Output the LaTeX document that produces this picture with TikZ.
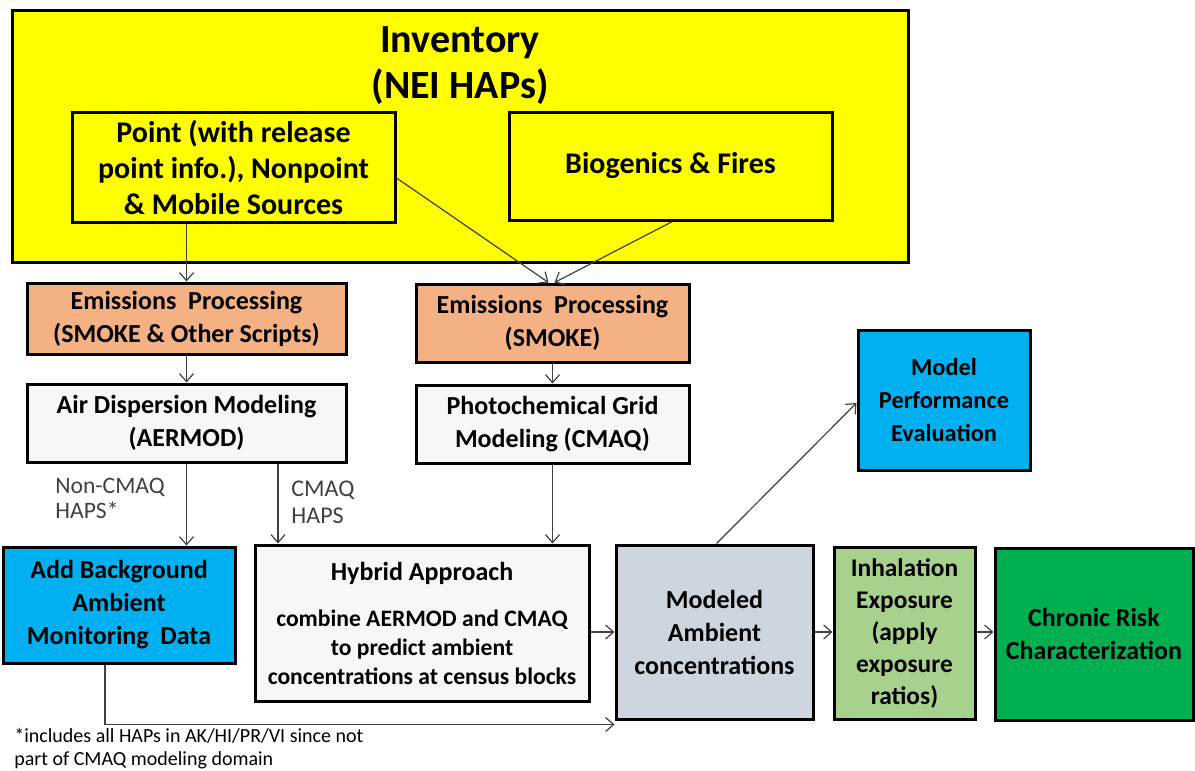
\documentclass[tikz,border=0pt]{standalone}
\usepackage{fontspec}
\setmainfont{Carlito}
\usetikzlibrary{arrows.meta}

\definecolor{invyellow}{HTML}{FFFF00}
\definecolor{emisorange}{HTML}{F4B183}
\definecolor{skyblue}{HTML}{00B0F0}
\definecolor{palegray}{HTML}{F7F7F7}
\definecolor{bluegray}{HTML}{CDD5DF}
\definecolor{lightgreen}{HTML}{A9D18E}
\definecolor{riskgreen}{HTML}{00B050}
\definecolor{linegray}{HTML}{404040}

\begin{document}
\begin{tikzpicture}[x=0.5pt,y=-0.5pt,
	box/.style={draw=black, line width=1.5pt, inner sep=0pt, align=center,
		font=\bfseries\fontsize{13}{16.5}\selectfont},
	arr/.style={draw=linegray, line width=0.6pt, -{Straight Barb[length=4pt,width=7pt]}},
	note/.style={anchor=north west, align=left, inner sep=0pt, text=linegray}]
		\useasboundingbox (0,0) rectangle (1195,771);

		% Inventory
		\node[box, fill=invyellow, minimum width=448pt, minimum height=126pt] (inv) at (460,136) {};
		\node[inner sep=0pt, align=center, font=\bfseries\fontsize{20}{23}\selectfont] (invtitle) at (460,66) {Inventory\\(NEI HAPs)};
		\node[box, fill=invyellow, minimum width=161.5pt, minimum height=55pt, font=\bfseries\fontsize{15}{18}\selectfont] (pt) at (233.5,167) {Point (with release\\point info.), Nonpoint\\\& Mobile Sources};
		\node[box, fill=invyellow, minimum width=161.5pt, minimum height=54pt, font=\bfseries\fontsize{15}{18}\selectfont] (bio) at (670.5,166) {Biogenics \& Fires};

		% Processing and modeling
		\node[box, fill=emisorange, minimum width=159.5pt, minimum height=35.5pt] (epl) at (186.5,318.5) {Emissions\ \ Processing\\(SMOKE \& Other Scripts)};
		\node[box, fill=emisorange, minimum width=136.5pt, minimum height=39pt] (epr) at (552.5,323) {Emissions\ \ Processing\\(SMOKE)};
		\node[box, fill=palegray, minimum width=159.5pt, minimum height=39pt] (aer) at (186.5,423) {Air\ Dispersion\ Modeling\\(AERMOD)};
		\node[box, fill=palegray, minimum width=136.5pt, minimum height=39pt] (cmaq) at (552.5,424) {Photochemical\ Grid\\Modeling\ (CMAQ)};
		\node[box, fill=skyblue, minimum width=86pt, minimum height=70pt, font=\bfseries\fontsize{12.2}{16.5}\selectfont] (mpe) at (944,400) {Model\\Performance\\Evaluation};

		% Bottom row
		\node[box, fill=skyblue, minimum width=116pt, minimum height=58pt] (bg) at (119,605) {Add Background\\Ambient\\Monitoring\ \ Data};
		\node[box, fill=palegray, minimum width=167pt, minimum height=78pt, font=\bfseries\fontsize{11.8}{14.5}\selectfont] (hyb) at (422,623) {{\fontsize{13}{14.5}\selectfont Hybrid\ Approach}\\[8.5pt]combine AERMOD and CMAQ\\to predict ambient\\concentrations at census blocks};
		\node[box, fill=bluegray, minimum width=98.5pt, minimum height=87pt] (mod) at (714.5,632) {Modeled\\Ambient\\concentrations};
		\node[box, fill=lightgreen, minimum width=70.5pt, minimum height=86pt, font=\bfseries\fontsize{12.7}{16}\selectfont] (inh) at (904.5,633) {Inhalation\\Exposure\\(apply\\exposure\\ratios)};
		\node[box, fill=riskgreen, minimum width=99pt, minimum height=86pt] (chr) at (1094,634) {Chronic\ Risk\\Characterization};

		% Labels
		\node[note, font=\fontsize{11.8}{12.5}\selectfont] (noncmaq) at (55,478) {Non-CMAQ\\HAPS*};
		\node[note, font=\fontsize{12}{13.5}\selectfont] (cmaqhaps) at (291,481) {CMAQ\\HAPS};
		\node[note, text=black, font=\fontsize{10}{11.5}\selectfont] (foot) at (14,728) {*includes all HAPs in AK/HI/PR/VI\ since not\\part of CMAQ modeling\ domain};

		% Connectors
		\coordinate (ptout) at ([yshift=-5.5pt]pt.east);
		\coordinate (bioout) at ([xshift=1pt]bio.south);
		\coordinate (aerout) at ([xshift=45.75pt]aer.south);
		\coordinate (bgout) at ([xshift=-7pt]bg.south);
		\draw[arr] (epl.north |- pt.south) -- (epl.north);
		\draw[arr] (ptout) -- ([xshift=-2pt]epr.north);
		\draw[arr] (bioout) -- ([xshift=1pt]epr.north);
		\draw[arr] (epl.south) -- (aer.north);
		\draw[arr] (epr.south) -- (cmaq.north);
		\draw[arr] (aer.south) -- (aer.south |- bg.north);
		\draw[arr] (aerout) -- (aerout |- hyb.north);
		\draw[arr] (cmaq.south) -- (cmaq.south |- hyb.north);
		\draw[arr] (hyb.east |- mod.west) -- (mod.west);
		\draw[arr] (bgout) |- ([yshift=-2pt]mod.south west);
		\draw[arr] ([xshift=1pt]mod.north) -- ([yshift=-1.5pt]mpe.west);
		\draw[arr] (mod.east) -- (mod.east -| inh.west);
		\draw[arr] (inh.east |- mod.east) -- (chr.west |- mod.east);
	\end{tikzpicture}
\end{document}
